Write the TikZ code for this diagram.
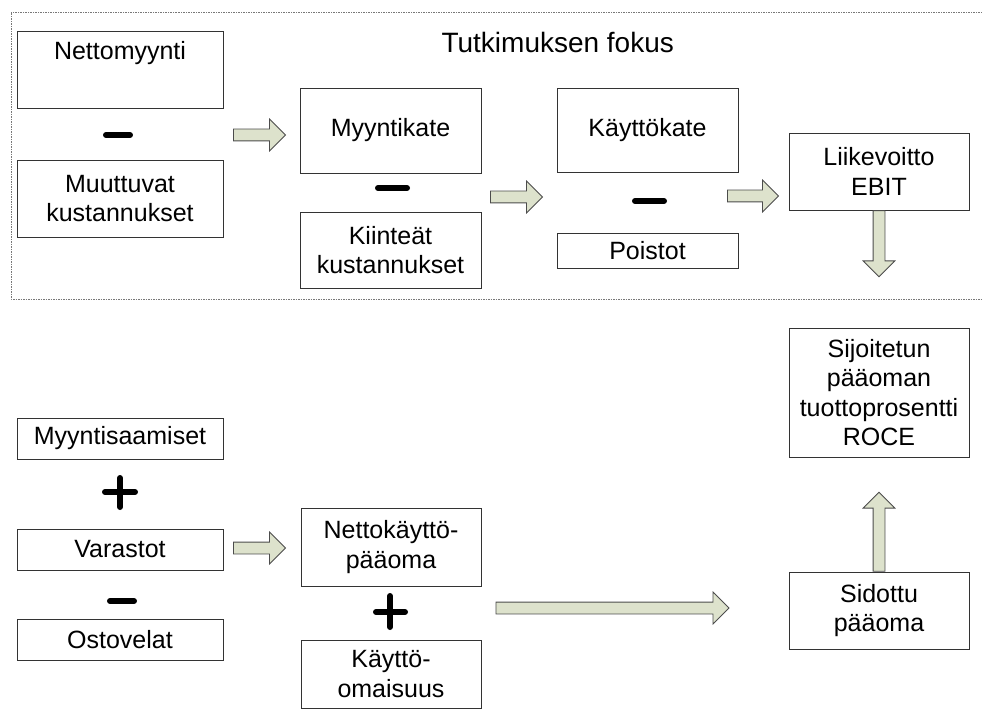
\documentclass[tikz,border=0pt]{standalone}
\usepackage{fontspec}
\setmainfont{Liberation Sans}
\usetikzlibrary{shapes.arrows}
\definecolor{arrowgreen}{RGB}{221,226,204}
\definecolor{framegray}{RGB}{120,120,120}
\tikzset{
	box/.style={draw=black!80,line width=0.8pt,fill=white,inner sep=0pt,align=center,
		font=\fontsize{25}{29.5}\selectfont},
	barrow/.style={single arrow,draw=black!70,line width=0.8pt,fill=arrowgreen,inner sep=5.5pt,
		single arrow head extend=10pt,single arrow tip angle=90},
	sign/.style={line width=6pt,line cap=round,black}
}
\begin{document}
\begin{tikzpicture}[x=1pt,y=-1pt]
		\useasboundingbox (0,0) rectangle (982,711);
		\draw[framegray,line width=0.7pt,dash pattern=on 1.5pt off 1pt] (982,12) -- (11,12) -- (11,299) -- (982,299);
		\node[anchor=base west,font=\fontsize{28}{32}\selectfont] (title) at (438,53) {Tutkimuksen fokus};

		\node[box,minimum width=206pt,minimum height=77pt] (netto) at (120,69.5) {Nettomyynti\\ \strut};
		\draw[sign] (106,135) -- (130,135);
		\node[box,minimum width=206pt,minimum height=77pt] (muut) at (120,198.5) {Muuttuvat\\kustannukset};
		\node[barrow,minimum height=52pt] (a1) at (256.5,135) {};

		\node[box,minimum width=181pt,minimum height=85pt] (mkate) at (390.5,130.5) {Myyntikate};
		\draw[sign] (378,188) -- (407,188);
		\node[box,minimum width=181pt,minimum height=76pt] (kiint) at (390.5,250) {Kiinteät\\kustannukset};
		\node[barrow,minimum height=52pt] (a2) at (513.5,197) {};

		\node[box,minimum width=181pt,minimum height=84pt] (kkate) at (647.5,130) {Käyttökate};
		\draw[sign] (635,201) -- (664,201);
		\node[box,minimum width=181pt,minimum height=35pt] (poistot) at (647.5,250.5) {Poistot};
		\node[barrow,minimum height=51pt] (a3) at (750,196) {};

		\node[box,minimum width=180pt,minimum height=77pt] (ebit) at (879,171.5) {Liikevoitto\\EBIT};
		\node[barrow,minimum height=66pt,shape border rotate=270,anchor=tail] (a4) at (ebit.south) {};

		\node[box,minimum width=180pt,minimum height=129pt] (roce) at (879,392.5) {Sijoitetun\\pääoman\\tuottoprosentti\\ROCE};
		\node[box,minimum width=180pt,minimum height=77pt] (sidottu) at (879,610.5) {Sidottu\\pääoma};
		\node[barrow,minimum height=79pt,shape border rotate=90,anchor=tail] (a7) at (sidottu.north) {};

		\node[box,minimum width=206pt,minimum height=41pt] (saamiset) at (120,438.5) {Myyntisaamiset};
		\draw[sign] (105,492) -- (135,492) (120,478) -- (120,507);
		\node[box,minimum width=206pt,minimum height=41pt] (varastot) at (120,549.5) {Varastot};
		\draw[sign] (110,601) -- (134,601);
		\node[box,minimum width=206pt,minimum height=41pt] (ostovelat) at (120,639.5) {Ostovelat};
		\node[barrow,minimum height=52pt] (a5) at (256.5,548) {};

		\node[box,minimum width=180pt,minimum height=78pt] (nkp) at (391,547) {Nettokäyttö-\\pääoma};
		\draw[sign] (376,612) -- (405,612) (390,596) -- (390,627);
		\node[box,minimum width=180pt,minimum height=68pt] (kom) at (391,674) {Käyttö-\\omaisuus};
		\node[barrow,minimum height=233pt] (a6) at (609.5,608) {};
	\end{tikzpicture}
\end{document}
